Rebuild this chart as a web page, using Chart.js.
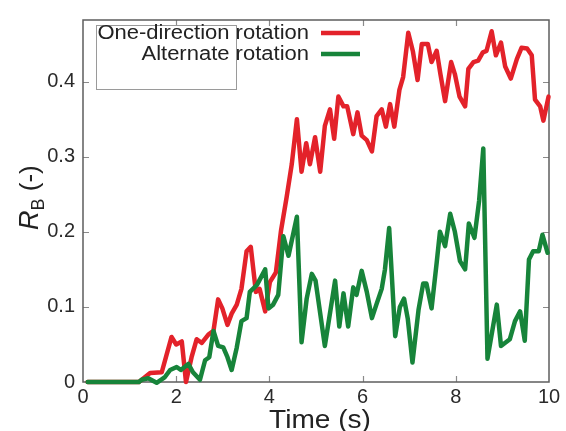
<!DOCTYPE html>
<html>
<head>
<meta charset="utf-8">
<script src="https://cdn.jsdelivr.net/npm/chart.js@4/dist/chart.umd.min.js"></script>
<style>
  html, body { margin: 0; padding: 0; background: #fff; }
  #wrap { width: 566px; height: 431px; }
</style>
</head>
<body>
<div id="wrap"><canvas id="rbChart" width="566" height="431"></canvas></div>
<script>
// values
const redTime = [0.1, 1.2, 1.26, 1.4, 1.44, 1.69, 1.9, 2.0, 2.12, 2.21, 2.33, 2.44, 2.55, 2.69, 2.8, 2.9, 2.99, 3.1, 3.19, 3.3, 3.4, 3.51, 3.6, 3.71, 3.79, 3.91, 4.01, 4.14, 4.25, 4.37, 4.48, 4.59, 4.69, 4.79, 4.87, 4.98, 5.09, 5.19, 5.3, 5.39, 5.48, 5.59, 5.67, 5.8, 5.89, 5.98, 6.09, 6.2, 6.3, 6.41, 6.5, 6.59, 6.68, 6.79, 6.87, 6.98, 7.08, 7.18, 7.27, 7.4, 7.48, 7.59, 7.67, 7.77, 7.9, 7.98, 8.08, 8.2, 8.27, 8.38, 8.48, 8.58, 8.66, 8.77, 8.86, 8.97, 9.06, 9.18, 9.31, 9.41, 9.53, 9.63, 9.7, 9.81, 9.88, 9.99];
const redValue = [0, 0, 0.003, 0.010, 0.012, 0.013, 0.060, 0.050, 0.054, 0, 0.033, 0.057, 0.052, 0.063, 0.068, 0.110, 0.098, 0.076, 0.091, 0.103, 0.124, 0.174, 0.180, 0.120, 0.124, 0.094, 0.133, 0.146, 0.202, 0.246, 0.29, 0.35, 0.28, 0.318, 0.29, 0.326, 0.28, 0.341, 0.363, 0.324, 0.38, 0.367, 0.367, 0.33, 0.359, 0.328, 0.322, 0.307, 0.354, 0.363, 0.34, 0.37, 0.34, 0.389, 0.406, 0.465, 0.44, 0.402, 0.45, 0.45, 0.426, 0.441, 0.41, 0.374, 0.426, 0.41, 0.38, 0.367, 0.417, 0.426, 0.428, 0.439, 0.441, 0.467, 0.435, 0.452, 0.42, 0.404, 0.43, 0.445, 0.444, 0.435, 0.376, 0.367, 0.348, 0.38];

const greenTime = [0.1, 1.2, 1.26, 1.4, 1.58, 1.75, 1.87, 2.01, 2.1, 2.26, 2.36, 2.51, 2.62, 2.71, 2.8, 2.9, 3.01, 3.1, 3.19, 3.3, 3.4, 3.51, 3.58, 3.73, 3.91, 3.98, 4.08, 4.19, 4.3, 4.41, 4.59, 4.69, 4.8, 4.91, 4.99, 5.19, 5.41, 5.5, 5.59, 5.69, 5.8, 5.87, 5.98, 6.09, 6.2, 6.29, 6.41, 6.48, 6.57, 6.7, 6.8, 6.89, 6.97, 7.07, 7.2, 7.3, 7.37, 7.48, 7.59, 7.66, 7.77, 7.88, 7.98, 8.09, 8.2, 8.28, 8.4, 8.5, 8.59, 8.68, 8.88, 8.97, 9.16, 9.27, 9.38, 9.48, 9.57, 9.66, 9.78, 9.86, 9.97];
const greenValue = [0, 0, 0.003, 0.005, -0.001, 0.006, 0.016, 0.02, 0.016, 0.024, 0.013, 0.003, 0.029, 0.033, 0.068, 0.048, 0.046, 0.033, 0.016, 0.046, 0.081, 0.085, 0.12, 0.129, 0.15, 0.098, 0.103, 0.116, 0.194, 0.168, 0.22, 0.053, 0.111, 0.144, 0.135, 0.048, 0.135, 0.074, 0.118, 0.074, 0.126, 0.116, 0.148, 0.12, 0.085, 0.102, 0.124, 0.15, 0.205, 0.061, 0.1, 0.111, 0.084, 0.026, 0.096, 0.131, 0.131, 0.098, 0.159, 0.2, 0.181, 0.224, 0.2, 0.161, 0.15, 0.211, 0.192, 0.241, 0.311, 0.031, 0.103, 0.048, 0.057, 0.081, 0.094, 0.055, 0.163, 0.174, 0.174, 0.196, 0.172];

const xTicks = [0, 2, 4, 6, 8, 10];
const yTicks = [0, 0.1, 0.2, 0.3, 0.4];
const seriesNames = ['One-direction rotation', 'Alternate rotation'];

const RED = '#e3222a';
const GREEN = '#17843a';
const FONT = '"Liberation Sans", Arial, sans-serif';

function toPoints(xs, ys) {
  return xs.map((x, i) => ({ x: x, y: ys[i] }));
}

// frame, inward ticks (gnuplot style)
const framePlugin = {
  id: 'frame',
  beforeDatasetsDraw(chart) {
    const { ctx, chartArea: a, scales } = chart;
    ctx.save();
    ctx.strokeStyle = '#8a8a8a';
    ctx.lineWidth = 1.2;
    ctx.beginPath();
    xTicks.slice(1, -1).forEach(v => {
      const px = Math.round(scales.x.getPixelForValue(v)) + 0.5;
      ctx.moveTo(px, a.bottom); ctx.lineTo(px, a.bottom - 6);
      ctx.moveTo(px, a.top); ctx.lineTo(px, a.top + 6);
    });
    yTicks.slice(1).forEach(v => {
      const py = Math.round(scales.y.getPixelForValue(v)) + 0.5;
      ctx.moveTo(a.left, py); ctx.lineTo(a.left + 6, py);
      ctx.moveTo(a.right, py); ctx.lineTo(a.right - 6, py);
    });
    ctx.stroke();
    ctx.strokeStyle = '#5e5e5e';
    ctx.lineWidth = 1.5;
    ctx.strokeRect(a.left, a.top, a.right - a.left, a.bottom - a.top);
    ctx.restore();
  },
  afterDraw(chart) {
    const ctx = chart.ctx;
    ctx.save();
    // legend box (smaller than its text, as in the original)
    ctx.strokeStyle = '#9a9a9a';
    ctx.lineWidth = 1;
    ctx.strokeRect(96.5, 25.5, 140, 64);
    ctx.fillStyle = '#222';
    ctx.font = '20px ' + FONT;
    ctx.textAlign = 'right';
    ctx.textBaseline = 'middle';
    const rows = [[seriesNames[0], RED, 33], [seriesNames[1], GREEN, 54]];
    rows.forEach(([label, color, y]) => {
      ctx.save();
      ctx.translate(309, y);
      ctx.scale(1.1, 1);
      ctx.fillText(label, 0, 0);
      ctx.restore();
      ctx.strokeStyle = color;
      ctx.lineWidth = 4.5;
      ctx.beginPath();
      ctx.moveTo(321, y); ctx.lineTo(360, y);
      ctx.stroke();
    });

    // x axis title
    ctx.textAlign = 'center';
    ctx.textBaseline = 'alphabetic';
    ctx.font = '26px ' + FONT;
    ctx.save();
    ctx.translate(320, 428);
    ctx.scale(1.08, 1);
    ctx.fillText('Time (s)', 0, 0);
    ctx.restore();

    // y axis title: R_B (-)
    ctx.save();
    ctx.translate(38, 230);
    ctx.rotate(-Math.PI / 2);
    ctx.textAlign = 'left';
    ctx.font = 'italic 27px ' + FONT;
    ctx.fillText('R', 0, 0);
    let w = ctx.measureText('R').width;
    ctx.font = '18px ' + FONT;
    ctx.fillText('B', w, 6);
    w += ctx.measureText('B').width;
    ctx.font = '26px ' + FONT;
    ctx.fillText(' (-)', w, 0);
    ctx.restore();
    ctx.restore();
  }
};

new Chart(document.getElementById('rbChart'), {
  type: 'line',
  data: {
    datasets: [
      {
        label: seriesNames[0],
        data: toPoints(redTime, redValue),
        borderColor: RED,
        borderWidth: 4.5,
        borderJoinStyle: 'round',
        borderCapStyle: 'round',
        pointRadius: 0,
        tension: 0,
        clip: false,
        order: 1
      },
      {
        label: seriesNames[1],
        data: toPoints(greenTime, greenValue),
        borderColor: GREEN,
        borderWidth: 4.5,
        borderJoinStyle: 'round',
        borderCapStyle: 'round',
        pointRadius: 0,
        tension: 0,
        clip: false,
        order: 0
      }
    ]
  },
  options: {
    responsive: false,
    animation: false,
    layout: { padding: { top: 12, right: 17, left: 0, bottom: 0 } },
    plugins: {
      legend: { display: false },
      tooltip: { enabled: false }
    },
    scales: {
      x: {
        type: 'linear',
        min: 0,
        max: 10,
        grid: { display: false, drawTicks: false },
        border: { display: false },
        afterBuildTicks: s => { s.ticks = xTicks.map(v => ({ value: v })); },
        afterFit: s => { s.height = 49; },
        ticks: { padding: 3, color: '#2a2a2a', font: { family: FONT, size: 20 } }
      },
      y: {
        type: 'linear',
        min: 0,
        max: 0.482,
        grid: { display: false, drawTicks: false },
        border: { display: false },
        afterBuildTicks: s => { s.ticks = yTicks.map(v => ({ value: v })); },
        afterFit: s => { s.width = 83; },
        ticks: { padding: 8, color: '#2a2a2a', font: { family: FONT, size: 20 } }
      }
    }
  },
  plugins: [framePlugin]
});
</script>
</body>
</html>
